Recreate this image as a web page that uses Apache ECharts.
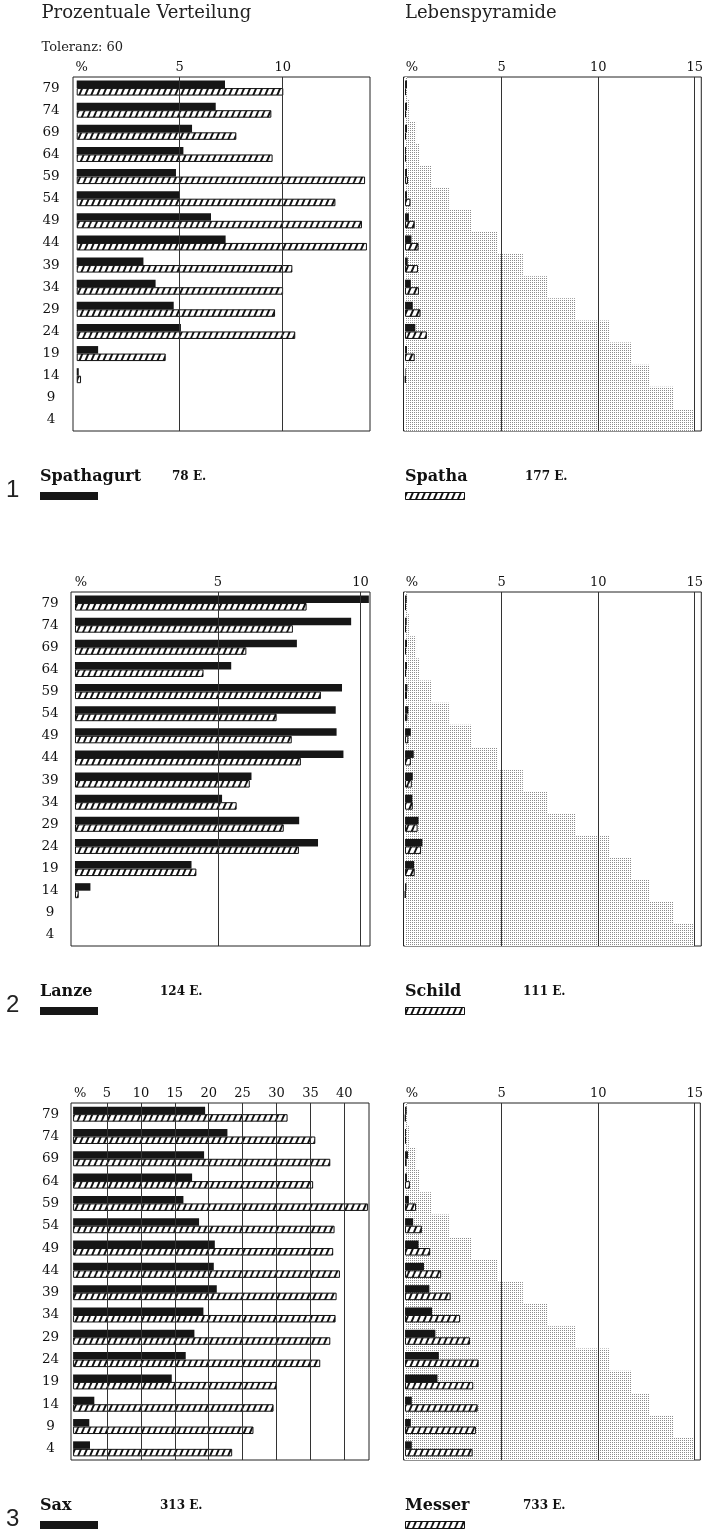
<!DOCTYPE html>
<html>
<head>
<meta charset="utf-8">
<script src="https://cdn.jsdelivr.net/npm/echarts@6/dist/echarts.min.js"></script>
<style>
  html, body { margin: 0; padding: 0; background: #fff; }
  #chart { width: 706px; height: 1534px; }
</style>
</head>
<body>
<div id="chart"></div>
<script>
// Altersklassen (obere Grenze), oben die ältesten
const ageClasses = ['79','74','69','64','59','54','49','44','39','34','29','24','19','14','9','4'];

// Prozentuale Verteilung je Altersklasse
const spathagurtPct = [7.2, 6.75, 5.6, 5.18, 4.82, 4.98, 6.52, 7.23, 3.24, 3.83, 4.71, 5.06, 1.04, 0.1, 0, 0];
const spathaPct     = [10.03, 9.45, 7.75, 9.51, 14.0, 12.56, 13.85, 14.09, 10.47, 10.02, 9.63, 10.61, 4.32, 0.21, 0, 0];
const lanzePct      = [10.29, 9.67, 7.77, 5.47, 9.35, 9.13, 9.16, 9.4, 6.18, 5.15, 7.85, 8.51, 4.08, 0.54, 0, 0];
const schildPct     = [8.11, 7.63, 6.0, 4.5, 8.61, 7.06, 7.59, 7.91, 6.12, 5.66, 7.31, 7.84, 4.25, 0.13, 0, 0];
const saxPct        = [19.47, 22.76, 19.32, 17.55, 16.27, 18.58, 20.9, 20.75, 21.19, 19.22, 17.89, 16.61, 14.55, 3.13, 2.39, 2.49];
const messerPct     = [31.63, 35.72, 37.93, 35.4, 43.48, 38.56, 38.36, 39.35, 38.86, 38.71, 37.93, 36.45, 30.0, 29.56, 26.6, 23.46];

// Lebenspyramide: Grundverteilung und Anteile der Beigaben
const pyramid       = [0.1, 0.2, 0.57, 0.74, 1.37, 2.27, 3.44, 4.81, 6.1, 7.4, 8.81, 10.57, 11.73, 12.68, 13.92, 15.0];
const spathagurtPyr = [0.1, 0.1, 0.1, 0.05, 0.1, 0.1, 0.2, 0.33, 0.14, 0.3, 0.4, 0.53, 0.1, 0.03, 0, 0];
const spathaPyr     = [0.05, 0.05, 0.05, 0.05, 0.15, 0.28, 0.5, 0.7, 0.67, 0.72, 0.8, 1.13, 0.5, 0.03, 0, 0];
const lanzePyr      = [0.08, 0.08, 0.1, 0.1, 0.12, 0.17, 0.3, 0.45, 0.4, 0.38, 0.7, 0.9, 0.47, 0.07, 0, 0];
const schildPyr     = [0.05, 0.05, 0.05, 0.05, 0.1, 0.12, 0.17, 0.3, 0.35, 0.4, 0.65, 0.83, 0.5, 0.02, 0, 0];
const saxPyr        = [0.08, 0.05, 0.15, 0.1, 0.2, 0.42, 0.7, 0.98, 1.26, 1.4, 1.57, 1.75, 1.68, 0.35, 0.3, 0.35];
const messerPyr     = [0.03, 0.05, 0.08, 0.25, 0.57, 0.87, 1.3, 1.87, 2.36, 2.85, 3.36, 3.81, 3.53, 3.76, 3.67, 3.5];

// Achsenbeschriftungen
const ticksSmall = [0, 5, 10];
const ticksSax   = [0, 5, 10, 15, 20, 25, 30, 35, 40];
const ticksPyr   = [0, 5, 10, 15];

// Beigabengruppen mit Legendentexten
const groups = [
  { solid: 'Spathagurt', solidN: '78 E.',  hatched: 'Spatha', hatchedN: '177 E.', pct: [spathagurtPct, spathaPct], pyr: [spathagurtPyr, spathaPyr], ticks: ticksSmall },
  { solid: 'Lanze',      solidN: '124 E.', hatched: 'Schild', hatchedN: '111 E.', pct: [lanzePct, schildPct],     pyr: [lanzePyr, schildPyr],       ticks: ticksSmall },
  { solid: 'Sax',        solidN: '313 E.', hatched: 'Messer', hatchedN: '733 E.', pct: [saxPct, messerPct],       pyr: [saxPyr, messerPyr],         ticks: ticksSax }
];

// Lage der Diagrammfelder
const layout = [
  { top: 77,   height: 354, left: { x: 73,    w: 297, min: -0.18, max: 14.24, pad: 10, margin: 22 },
                            right: { x: 403.5, w: 299, min: -0.08, max: 15.34, pad: 14 }, nX: 172, nXr: 525 },
  { top: 592,  height: 354, left: { x: 71,    w: 299, min: -0.14, max: 10.33, pad: 12, margin: 21 },
                            right: { x: 403.5, w: 299, min: -0.08, max: 15.34, pad: 14 }, nX: 160, nXr: 523 },
  { top: 1103, height: 357, left: { x: 71,    w: 298, min: -0.31, max: 43.64, pad: 14, margin: 20.5 },
                            right: { x: 403.5, w: 298, min: -0.08, max: 15.29, pad: 14 }, nX: 160, nXr: 523 }
];

const SERIF = '"DejaVu Serif", serif';

// Schraffur: steile Schrägstriche
function hatchTile() {
  const w = 6, h = 14;
  const c = document.createElement('canvas');
  c.width = w; c.height = h;
  const g = c.getContext('2d');
  g.fillStyle = '#fff';
  g.fillRect(0, 0, w, h);
  g.strokeStyle = '#111';
  g.lineWidth = 1.9;
  g.beginPath();
  for (const dx of [-w, 0, w]) { g.moveTo(dx, h); g.lineTo(dx + w, 0); }
  g.stroke();
  return c;
}
// Punktraster der Lebenspyramide
function stippleTile() {
  const c = document.createElement('canvas');
  c.width = 2; c.height = 2;
  const g = c.getContext('2d');
  g.fillStyle = '#fff';
  g.fillRect(0, 0, 2, 2);
  g.fillStyle = '#8c8c8c';
  g.fillRect(0, 0, 1, 1);
  return c;
}
const hatchFill = { image: hatchTile(), repeat: 'repeat' };
const stippleFill = { image: stippleTile(), repeat: 'repeat' };

const blank = v => (v === 0 ? '-' : v);

const grids = [], xAxes = [], yAxes = [], series = [], graphics = [];

function addXAxis(gridIndex, cfg, ticks) {
  xAxes.push({
    gridIndex, type: 'value', position: 'top', min: cfg.min, max: cfg.max,
    axisLine: { show: false }, axisTick: { show: false }, splitLine: { show: false },
    axisLabel: {
      customValues: ticks, margin: 3, color: '#111', fontFamily: SERIF, fontSize: 13,
      formatter: v => (v === 0 ? '{p|%}' : String(v)),
      rich: { p: { padding: [0, 0, 0, cfg.pad], fontFamily: SERIF, fontSize: 13, color: '#111' } }
    }
  });
  return xAxes.length - 1;
}
function addYAxis(gridIndex, showLabels, margin) {
  yAxes.push({
    gridIndex, type: 'category', data: ageClasses, inverse: true,
    axisLine: { show: false }, axisTick: { show: false }, splitLine: { show: false },
    axisLabel: showLabels
      ? { show: true, align: 'center', margin, color: '#111', fontFamily: SERIF, fontSize: 13.5 }
      : { show: false }
  });
  return yAxes.length - 1;
}
function gridLines(ticks) {
  return {
    silent: true, symbol: 'none', animation: false,
    label: { show: false },
    lineStyle: { color: '#333', width: 1, type: 'solid' },
    emphasis: { disabled: true },
    data: ticks.filter(t => t > 0).map(t => ({ xAxis: t }))
  };
}
function barPair(xi, yi, solidVals, hatchVals, ticks, names) {
  series.push({
    type: 'bar', name: names[0], xAxisIndex: xi, yAxisIndex: yi,
    data: solidVals.map(blank), barWidth: 7.5, barGap: '0%', z: 3,
    itemStyle: { color: '#161616' }
  });
  series.push({
    type: 'bar', name: names[1], xAxisIndex: xi, yAxisIndex: yi,
    data: hatchVals.map(blank), barWidth: 7.5, barGap: '0%', z: 3,
    itemStyle: { color: hatchFill, borderColor: '#111', borderWidth: 1 },
    markLine: gridLines(ticks)
  });
}

groups.forEach((grp, i) => {
  const L = layout[i];
  // linkes Feld: prozentuale Verteilung
  grids.push({ left: L.left.x, top: L.top, width: L.left.w, height: L.height, show: true,
               borderColor: '#222', borderWidth: 1, backgroundColor: 'transparent' });
  let gi = grids.length - 1;
  let xi = addXAxis(gi, L.left, grp.ticks);
  let yi = addYAxis(gi, true, L.left.margin);
  barPair(xi, yi, grp.pct[0], grp.pct[1], grp.ticks, [grp.solid, grp.hatched]);

  // rechtes Feld: Lebenspyramide
  grids.push({ left: L.right.x, top: L.top, width: L.right.w, height: L.height, show: true,
               borderColor: '#222', borderWidth: 1, backgroundColor: 'transparent' });
  gi = grids.length - 1;
  xi = addXAxis(gi, L.right, ticksPyr);
  yi = addYAxis(gi, false, 0);
  const yiBg = addYAxis(gi, false, 0);
  series.push({
    type: 'bar', name: 'Lebenspyramide', xAxisIndex: xi, yAxisIndex: yiBg,
    data: pyramid, barCategoryGap: '0%', barWidth: '100%', z: 1, silent: true,
    itemStyle: { color: stippleFill }
  });
  barPair(xi, yi, grp.pyr[0], grp.pyr[1], ticksPyr, [grp.solid, grp.hatched]);

  // Legende unter dem Feldpaar
  const b = L.top + L.height;
  graphics.push(
    { type: 'text', x: 6, y: b + 59, style: { text: String(i + 1), font: '24px "Liberation Sans", sans-serif', fill: '#222', verticalAlign: 'middle' } },
    { type: 'text', x: 40, y: b + 46, style: { text: grp.solid, font: 'bold 16px ' + SERIF, fill: '#111', verticalAlign: 'middle' } },
    { type: 'text', x: L.nX, y: b + 46, style: { text: grp.solidN, font: 'bold 12px ' + SERIF, fill: '#111', verticalAlign: 'middle' } },
    { type: 'rect', shape: { x: 40, y: b + 61, width: 58, height: 8 }, style: { fill: '#161616' } },
    { type: 'text', x: 405, y: b + 46, style: { text: grp.hatched, font: 'bold 16px ' + SERIF, fill: '#111', verticalAlign: 'middle' } },
    { type: 'text', x: L.nXr, y: b + 46, style: { text: grp.hatchedN, font: 'bold 12px ' + SERIF, fill: '#111', verticalAlign: 'middle' } },
    { type: 'rect', shape: { x: 405.5, y: b + 61.5, width: 59, height: 7 }, style: { fill: hatchFill, stroke: '#111', lineWidth: 1 } }
  );
});

graphics.push(
  { type: 'text', x: 41.5, y: 13.5, style: { text: 'Prozentuale Verteilung', font: '18px ' + SERIF, fill: '#222', verticalAlign: 'middle' } },
  { type: 'text', x: 405, y: 13.5, style: { text: 'Lebenspyramide', font: '18px ' + SERIF, fill: '#222', verticalAlign: 'middle' } },
  { type: 'text', x: 41.5, y: 48, style: { text: 'Toleranz: 60', font: '13px ' + SERIF, fill: '#222', verticalAlign: 'middle' } }
);

const chart = echarts.init(document.getElementById('chart'), null, { renderer: 'canvas' });
chart.setOption({
  backgroundColor: '#fff',
  animation: false,
  grid: grids,
  xAxis: xAxes,
  yAxis: yAxes,
  series,
  graphic: { elements: graphics }
});
</script>
</body>
</html>
